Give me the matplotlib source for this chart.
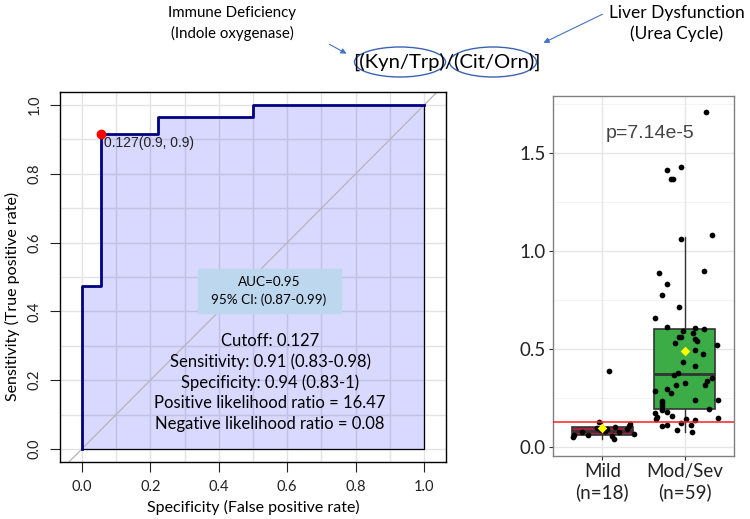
import matplotlib
matplotlib.use('Agg')
import matplotlib.pyplot as plt
from matplotlib.patches import Ellipse, FancyArrowPatch, Rectangle
import numpy as np

plt.rcParams['font.family'] = ['Lato', 'DejaVu Sans']

# ROC curve (steps)
fpr = [0.0, 0.0, 1 / 18, 1 / 18, 4 / 18, 4 / 18, 9 / 18, 9 / 18, 1.0]
tpr = [0.0, 28 / 59, 28 / 59, 54 / 59, 54 / 59, 57 / 59, 57 / 59, 1.0, 1.0]
best_fpr, best_tpr = 1 / 18, 54 / 59
best_label = '0.127(0.9, 0.9)'
auc_text = 'AUC=0.95\n95% CI: (0.87-0.99)'
stats_text = ['Cutoff: 0.127', 'Sensitivity: 0.91 (0.83-0.98)',
              'Specificity: 0.94 (0.83-1)', 'Positive likelihood ratio = 16.47',
              'Negative likelihood ratio = 0.08']

# box plot groups
groups = ['Mild\n(n=18)', 'Mod/Sev\n(n=59)']
q1 = [0.060, 0.192]
med = [0.080, 0.372]
q3 = [0.102, 0.602]
whislo = [0.040, 0.078]
whishi = [0.127, 1.070]
means = [0.099, 0.490]
cutoff = 0.127
p_text = 'p=7.14e-5'

mild_x = [0.955, 0.935, 1.03, 1.15, 1.32, 1.34, 1.30, 1.39, 1.12, 1.14,
          0.83, 0.75, 0.65, 0.64, 1.06, 1.08, 0.98, 1.20]
mild_y = [0.126, 0.095, 0.082, 0.100, 0.109, 0.116, 0.092, 0.066, 0.058, 0.041,
          0.061, 0.078, 0.061, 0.049, 0.092, 0.385, 0.085, 0.075]

sev_x = [2.26, 1.78, 1.95, 1.84, 1.86, 1.95, 2.33, 1.69, 2.24, 1.78, 1.73,
         1.93, 1.64, 1.78, 1.98, 2.13, 2.24, 2.10, 1.93, 1.96, 2.13, 2.15,
         1.88, 2.39, 2.13, 2.22, 1.98, 2.12, 1.92, 1.87, 2.33, 2.00, 1.89,
         2.27, 2.25, 1.78, 1.64, 1.84, 2.13, 2.40, 1.72, 1.72, 1.72, 2.30,
         1.64, 1.73, 1.78, 1.65, 1.66, 1.85, 2.02, 2.13, 2.40, 1.72, 1.79,
         1.96, 2.08, 1.91, 2.09]
sev_y = [1.706, 1.415, 1.429, 1.366, 1.369, 1.060, 1.080, 0.888, 0.898, 0.832, 0.777,
         0.716, 0.657, 0.611, 0.590, 0.605, 0.602, 0.580, 0.563, 0.560, 0.551, 0.539,
         0.529, 0.520, 0.495, 0.474, 0.434, 0.415, 0.379, 0.369, 0.352, 0.328, 0.315,
         0.335, 0.315, 0.298, 0.287, 0.274, 0.240, 0.240, 0.236, 0.222, 0.209, 0.196,
         0.172, 0.189, 0.179, 0.144, 0.151, 0.158, 0.141, 0.138, 0.150, 0.107, 0.112,
         0.124, 0.110, 0.087, 0.078]

W, H = 750, 519
fig = plt.figure(figsize=(7.5, 5.19), dpi=100)


def fx(px):
    return px / W


def fy(py):
    return 1 - py / H


# ---- ROC panel ----
ax1 = fig.add_axes([fx(60), fy(462), fx(446) - fx(60), fy(92) - fy(462)])
ax1.set_xlim(-0.064, 1.064)
ax1.set_ylim(-0.038, 1.038)
for v in np.arange(0, 1.01, 0.1):
    ax1.axvline(v, color='#e3e3e3', lw=1.0, zorder=0)
    ax1.axhline(v, color='#e3e3e3', lw=1.0, zorder=0)
ax1.fill_between(fpr, tpr, 0, color='#0000ff', alpha=0.15, lw=0, zorder=1)
ax1.plot([0, 1, 1], [0, 0, 1], color='black', lw=0.9, zorder=2)
ax1.axline((0, 0), (1, 1), color='#b5b5b5', lw=0.9, zorder=2)
ax1.plot(fpr, tpr, color='#000080', lw=2.0, zorder=3)
ax1.plot(best_fpr, best_tpr, 'o', color='red', ms=6, zorder=4)
ax1.text(best_fpr + 0.008, best_tpr - 0.005, best_label, fontsize=10,
         family=['Liberation Sans'], va='top', ha='left', color='#222222')

ax1.add_patch(Rectangle((0.338, 0.396), 0.418, 0.127, color='#bdd7ee', zorder=3))
ax1.text(0.547, 0.46, auc_text, ha='center', va='center', fontsize=9.7,
         linespacing=1.5, zorder=4)
for i, s in enumerate(stats_text):
    ax1.text(0.55, 0.315 - i * 0.0605, s, ha='center', va='center',
             fontsize=12, zorder=4)

ticks = [0.0, 0.2, 0.4, 0.6, 0.8, 1.0]
ax1.set_xticks(ticks)
ax1.set_yticks(ticks)
ax1.set_xticklabels(['%.1f' % t for t in ticks], fontsize=10.5)
ax1.set_yticklabels(['%.1f' % t for t in ticks], fontsize=10.5,
                    rotation=90, va='center')
ax1.tick_params(length=7, width=0.8, pad=6, colors='#222222')
for sp in ax1.spines.values():
    sp.set_linewidth(1.0)
fig.text(fx(253), fy(507), 'Specificity (False positive rate)', ha='center',
         va='center', fontsize=11.5)
fig.text(fx(12), fy(296), 'Sensitivity (True positive rate)', ha='center',
         va='center', rotation=90, fontsize=11.5)

# ---- box plot panel ----
ax2 = fig.add_axes([fx(553), fy(456), fx(734) - fx(553), fy(96) - fy(456)])
ax2.set_xlim(0.4, 2.6)
ax2.set_ylim(-0.046, 1.79)
for v in [0.25, 0.75, 1.25, 1.75]:
    ax2.axhline(v, color='#f2f2f2', lw=0.6, zorder=0)
for v in [0.0, 0.5, 1.0, 1.5]:
    ax2.axhline(v, color='#e6e6e6', lw=1.0, zorder=0)
for v in [1, 2]:
    ax2.axvline(v, color='#e6e6e6', lw=1.0, zorder=0)

bstats = [dict(q1=q1[i], med=med[i], q3=q3[i], whislo=whislo[i],
               whishi=whishi[i], fliers=[]) for i in range(2)]
bp = ax2.bxp(bstats, positions=[1, 2], widths=0.75, patch_artist=True,
             showcaps=False, manage_ticks=False, zorder=1,
             boxprops=dict(edgecolor='#333333', linewidth=1.2),
             whiskerprops=dict(color='#333333', linewidth=1.0),
             medianprops=dict(color='#333333', linewidth=2.0))
bp['boxes'][0].set_facecolor('#a8203f')
bp['boxes'][1].set_facecolor('#3cac46')

ax2.scatter(mild_x, mild_y, s=17, color='black', zorder=3, lw=0)
ax2.scatter(sev_x, sev_y, s=17, color='black', zorder=3, lw=0)
ax2.scatter([1, 2], means, marker='D', s=24, color='#ffff00', zorder=4, lw=0)
ax2.axhline(cutoff, color='#ff2020', lw=1.1, zorder=5)
ax2.text(1.585, 1.60, p_text, ha='center', va='center', fontsize=14,
         family=['Liberation Sans'], color='#444444')

ax2.set_xticks([1, 2])
ax2.set_xticklabels(groups, fontsize=13.5, linespacing=1.2)
ax2.set_yticks([0.0, 0.5, 1.0, 1.5])
ax2.set_yticklabels(['0.0', '0.5', '1.0', '1.5'], fontsize=13.5)
ax2.tick_params(length=3, width=0.8, pad=2, colors='#333333', labelcolor='#222222')
for sp in ax2.spines.values():
    sp.set_color('#808080')
    sp.set_linewidth(1.0)

# ---- top annotation ----
fig.text(fx(232), fy(13), 'Immune Deficiency', ha='center', va='center', fontsize=10.8)
fig.text(fx(232), fy(33), '(Indole oxygenase)', ha='center', va='center', fontsize=10.8)
fig.text(fx(677), fy(13), 'Liver Dysfunction', ha='center', va='center', fontsize=12.5)
fig.text(fx(677), fy(34), '(Urea Cycle)', ha='center', va='center', fontsize=12.5)
fig.text(fx(447), fy(62), '[(Kyn/Trp)/(Cit/Orn)]', ha='center', va='center', fontsize=14.6)
for cx, w in [(400, 91), (493, 87)]:
    fig.add_artist(Ellipse((fx(cx), fy(62)), fx(w), 30 / H,
                           transform=fig.transFigure, fill=False,
                           edgecolor='#3a63b0', lw=1.0))
for (x0, y0), (x1, y1) in [((327, 43), (349, 55)), ((605, 13), (541, 44))]:
    fig.add_artist(FancyArrowPatch((fx(x0), fy(y0)), (fx(x1), fy(y1)),
                                   transform=fig.transFigure, arrowstyle='-|>',
                                   mutation_scale=8, color='#4472c4', lw=0.8))

fig.savefig('out.png', dpi=100)
